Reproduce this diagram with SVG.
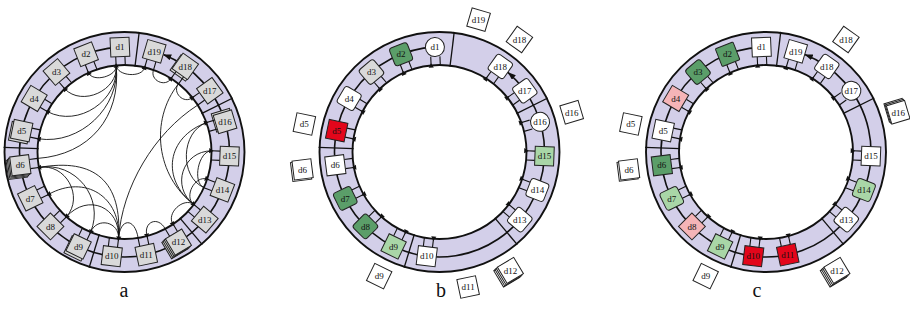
<svg xmlns="http://www.w3.org/2000/svg" width="910" height="322" viewBox="0 0 910 322">
<style>
.ring{fill:none;stroke:#d3cfe9;stroke-width:33}
.cir{fill:none;stroke:#111;stroke-width:1.9}
.sep{stroke:#111;stroke-width:1.3;fill:none}
.mid{fill:none;stroke:#111;stroke-width:1.6}
.ch{fill:none;stroke:#111;stroke-width:0.9}
.n{stroke:#222;stroke-width:1}
.g{fill:#d9d9d9}.w{fill:#fff}.dg{fill:#5b9e69}.lg{fill:#a9d6a7}.r{fill:#e3061b}.p{fill:#f5b4b7}
text{font-family:"Liberation Serif","Times New Roman",serif;font-size:9px;fill:#111;text-anchor:middle}
.lab{font-size:20px}
</style>
<defs>
<g id="legs"><path d="M-4.6,-95.5V-87M4.6,-95.5V-87" stroke="#111" stroke-width="1.1"/><path d="M-4.6,-89L-7.2,-84.6H-2Z" fill="#111"/></g>
<path id="sep" class="sep" d="M0,-86V-121"/>
<marker id="ah" viewBox="0 0 8 6" refX="8" refY="3" markerWidth="8" markerHeight="6" markerUnits="userSpaceOnUse" orient="auto"><path d="M0,0L8,3L0,6Z" fill="#111"/></marker>
</defs>

<g id="rings">
<g transform="translate(124.5 152)"><circle r="103.5" class="ring"/><circle r="120" class="cir"/><circle r="87" class="cir"/></g>
<g transform="translate(439.5 152)"><circle r="103.5" class="ring"/><circle r="120" class="cir"/><circle r="87" class="cir"/></g>
<g transform="translate(766 152)"><circle r="103.5" class="ring"/><circle r="120" class="cir"/><circle r="87" class="cir"/></g>
</g>

<g id="connectors">
<g transform="translate(124.5 152)"><use href="#sep" transform="rotate(7)"/><use href="#sep" transform="rotate(63.5)"/><use href="#sep" transform="rotate(140)"/><use href="#sep" transform="rotate(197)"/><use href="#sep" transform="rotate(272.2)"/></g>
<g transform="translate(439.5 152)"><use href="#sep" transform="rotate(7)"/><use href="#sep" transform="rotate(63.5)"/><use href="#sep" transform="rotate(140)"/><use href="#sep" transform="rotate(197)"/><use href="#sep" transform="rotate(272.2)"/></g>
<g transform="translate(766 152)"><use href="#sep" transform="rotate(7)"/><use href="#sep" transform="rotate(63.5)"/><use href="#sep" transform="rotate(140)"/><use href="#sep" transform="rotate(197)"/><use href="#sep" transform="rotate(272.2)"/></g>
<path class="mid" marker-end="url(#ah)" d="M119.92,47.1A105,105 0 1 0 163.32,54.44"/>
<path class="mid" marker-end="url(#ah)" d="M434.92,47.1A105,105 0 1 0 507.83,72.27"/>
<path class="mid" marker-end="url(#ah)" d="M761.42,47.1A105,105 0 1 0 804.82,54.44"/>
<path class="ch" d="M116.2,65.4C117.2,76.3 93,82.8 88.5,72.8"/>
<path class="ch" d="M116.2,65.4C118.6,90.3 81.9,107 64.7,88.8"/>
<path class="ch" d="M116.2,65.4C119.5,100.2 78.4,127.9 47.4,111.6"/>
<path class="ch" d="M116.2,65.4C120.2,107.2 80,145.2 38.5,138.8"/>
<path class="ch" d="M116.2,65.4C121.1,117.2 89.6,154.6 37.7,158.4"/>
<path class="ch" d="M116.2,65.4C117.2,76.3 142.2,78.1 144.7,67.4"/>
<path class="ch" d="M153.5,70C149.8,80.3 165.2,87.8 171.1,78.5"/>
<path class="ch" d="M178.5,83.8C171.7,92.4 183.8,104.5 192.4,97.6"/>
<path class="ch" d="M178.5,83.8C149.3,120.6 156.4,176.1 193.9,204.5"/>
<path class="ch" d="M197.7,105.1C154,133.1 122.1,186.9 118.5,238.8"/>
<path class="ch" d="M193.9,204.5C183.5,196.7 194.8,175.1 207.2,179.1"/>
<path class="ch" d="M193.9,204.5C170.7,187 182.5,151.2 211.5,150.8"/>
<path class="ch" d="M193.9,204.5C160.4,179.2 166.9,136.8 206.4,122.7"/>
<path class="ch" d="M203.9,187.6C179.2,176.6 181,131.8 206.4,122.7"/>
<path class="ch" d="M203.9,187.6C192,182.3 198.5,151 211.5,150.8"/>
<path class="ch" d="M173,224.2C165.8,213.4 183.5,196.7 193.9,204.5"/>
<path class="ch" d="M147,236.1C143.1,221.6 158.2,215.6 165.2,228.9"/>
<path class="ch" d="M118.5,238.8C119.9,217.8 134.8,217.2 138.1,237.9"/>
<path class="ch" d="M118.5,238.8C119.7,221.8 97.2,216.5 90.6,232.1"/>
<path class="ch" d="M118.5,238.8C120.7,206.9 87.8,192.9 66.4,216.8"/>
<path class="ch" d="M118.5,238.8C121.4,196.9 85.2,173.9 48.5,194.4"/>
<path class="ch" d="M118.5,238.8C122.4,181.9 95,157.3 38.9,167.5"/>
<path class="ch" d="M38.9,167.5C65.5,162.7 84.4,196.7 66.4,216.8"/>
<path class="ch" d="M38.9,167.5C75.3,160.9 105,198.1 90.6,232.1"/>
</g>

<g id="a-d1" transform="translate(124.5 152)"><g transform="rotate(-2.5)"><use href="#legs"/><rect class="n g" x="-9.5" y="-114.5" width="19" height="19"/><text transform="translate(0 -105) rotate(2.5)" y="3.2">d1</text></g></g>
<g id="a-d2" transform="translate(124.5 152)"><g transform="rotate(-21.45)"><use href="#legs"/><rect class="n g" x="-9.5" y="-114.5" width="19" height="19"/><text transform="translate(0 -105) rotate(21.45)" y="3.2">d2</text></g></g>
<g id="a-d3" transform="translate(124.5 152)"><g transform="rotate(-40.39)"><use href="#legs"/><rect class="n g" x="-9.5" y="-114.5" width="19" height="19"/><text transform="translate(0 -105) rotate(40.39)" y="3.2">d3</text></g></g>
<g id="a-d4" transform="translate(124.5 152)"><g transform="rotate(-59.34)"><use href="#legs"/><rect class="n g" x="-9.5" y="-114.5" width="19" height="19"/><text transform="translate(0 -105) rotate(59.34)" y="3.2">d4</text></g></g>
<g id="a-d5" transform="translate(124.5 152)"><rect class="n g" x="-9.5" y="-114.5" width="19" height="19" transform="translate(-2 2) rotate(-78.29)"/><g transform="rotate(-78.29)"><use href="#legs"/><rect class="n g" x="-9.5" y="-114.5" width="19" height="19"/><text transform="translate(0 -105) rotate(78.29)" y="3.2">d5</text></g></g>
<g id="a-d6" transform="translate(124.5 152)"><rect class="n g" x="-9.5" y="-114.5" width="19" height="19" transform="translate(-3.6 3.6) rotate(-97.24)"/><rect class="n g" x="-9.5" y="-114.5" width="19" height="19" transform="translate(-2.4 2.4) rotate(-97.24)"/><rect class="n g" x="-9.5" y="-114.5" width="19" height="19" transform="translate(-1.2 1.2) rotate(-97.24)"/><g transform="rotate(-97.24)"><use href="#legs"/><rect class="n g" x="-9.5" y="-114.5" width="19" height="19"/><text transform="translate(0 -105) rotate(97.24)" y="3.2">d6</text></g></g>
<g id="a-d7" transform="translate(124.5 152)"><g transform="rotate(-116.18)"><use href="#legs"/><rect class="n g" x="-9.5" y="-114.5" width="19" height="19"/><text transform="translate(0 -105) rotate(116.18)" y="3.2">d7</text></g></g>
<g id="a-d8" transform="translate(124.5 152)"><g transform="rotate(-135.13)"><use href="#legs"/><rect class="n g" x="-9.5" y="-114.5" width="19" height="19"/><text transform="translate(0 -105) rotate(135.13)" y="3.2">d8</text></g></g>
<g id="a-d9" transform="translate(124.5 152)"><rect class="n g" x="-9.5" y="-114.5" width="19" height="19" transform="translate(-2 2) rotate(-154.08)"/><g transform="rotate(-154.08)"><use href="#legs"/><rect class="n g" x="-9.5" y="-114.5" width="19" height="19"/><text transform="translate(0 -105) rotate(154.08)" y="3.2">d9</text></g></g>
<g id="a-d10" transform="translate(124.5 152)"><g transform="rotate(-173.03)"><use href="#legs"/><rect class="n g" x="-9.5" y="-114.5" width="19" height="19"/><text transform="translate(0 -105) rotate(173.03)" y="3.2">d10</text></g></g>
<g id="a-d11" transform="translate(124.5 152)"><g transform="rotate(168.03)"><use href="#legs"/><rect class="n g" x="-9.5" y="-114.5" width="19" height="19"/><text transform="translate(0 -105) rotate(-168.03)" y="3.2">d11</text></g></g>
<g id="a-d12" transform="translate(124.5 152)"><rect class="n g" x="-9.5" y="-114.5" width="19" height="19" transform="translate(-3.6 3.6) rotate(149.08)"/><rect class="n g" x="-9.5" y="-114.5" width="19" height="19" transform="translate(-2.4 2.4) rotate(149.08)"/><rect class="n g" x="-9.5" y="-114.5" width="19" height="19" transform="translate(-1.2 1.2) rotate(149.08)"/><g transform="rotate(149.08)"><use href="#legs"/><rect class="n g" x="-9.5" y="-114.5" width="19" height="19"/><text transform="translate(0 -105) rotate(-149.08)" y="3.2">d12</text></g></g>
<g id="a-d13" transform="translate(124.5 152)"><g transform="rotate(130.13)"><use href="#legs"/><rect class="n g" x="-9.5" y="-114.5" width="19" height="19"/><text transform="translate(0 -105) rotate(-130.13)" y="3.2">d13</text></g></g>
<g id="a-d14" transform="translate(124.5 152)"><g transform="rotate(111.18)"><use href="#legs"/><rect class="n g" x="-9.5" y="-114.5" width="19" height="19"/><text transform="translate(0 -105) rotate(-111.18)" y="3.2">d14</text></g></g>
<g id="a-d15" transform="translate(124.5 152)"><g transform="rotate(92.24)"><use href="#legs"/><rect class="n g" x="-9.5" y="-114.5" width="19" height="19"/><text transform="translate(0 -105) rotate(-92.24)" y="3.2">d15</text></g></g>
<g id="a-d16" transform="translate(124.5 152)"><rect class="n g" x="-9.5" y="-114.5" width="19" height="19" transform="translate(-2 -1.5) rotate(73.29)"/><g transform="rotate(73.29)"><use href="#legs"/><rect class="n g" x="-9.5" y="-114.5" width="19" height="19"/><text transform="translate(0 -105) rotate(-73.29)" y="3.2">d16</text></g></g>
<g id="a-d17" transform="translate(124.5 152)"><g transform="rotate(54.34)"><use href="#legs"/><rect class="n g" x="-9.5" y="-114.5" width="19" height="19"/><text transform="translate(0 -105) rotate(-54.34)" y="3.2">d17</text></g></g>
<g id="a-d18" transform="translate(124.5 152)"><rect class="n g" x="-9.5" y="-114.5" width="19" height="19" transform="translate(-2 1.5) rotate(35.39)"/><g transform="rotate(35.39)"><use href="#legs"/><rect class="n g" x="-9.5" y="-114.5" width="19" height="19"/><text transform="translate(0 -105) rotate(-35.39)" y="3.2">d18</text></g></g>
<g id="a-d19" transform="translate(124.5 152)"><g transform="rotate(16.45)"><use href="#legs"/><rect class="n g" x="-9.5" y="-114.5" width="19" height="19"/><text transform="translate(0 -105) rotate(-16.45)" y="3.2">d19</text></g></g>

<g id="b-d1" transform="translate(439.5 152)"><g transform="rotate(-2.5)"><use href="#legs"/><circle class="n w" cy="-105" r="9.5"/><text transform="translate(0 -105) rotate(2.5)" y="3.2">d1</text></g></g>
<g id="b-d2" transform="translate(439.5 152)"><g transform="rotate(-21.45)"><use href="#legs"/><rect class="n dg" x="-9.5" y="-114.5" width="19" height="19" rx="3"/><text transform="translate(0 -105) rotate(21.45)" y="3.2">d2</text></g></g>
<g id="b-d3" transform="translate(439.5 152)"><g transform="rotate(-40.39)"><use href="#legs"/><rect class="n g" x="-9.5" y="-114.5" width="19" height="19" rx="3"/><text transform="translate(0 -105) rotate(40.39)" y="3.2">d3</text></g></g>
<g id="b-d4" transform="translate(439.5 152)"><g transform="rotate(-59.34)"><use href="#legs"/><rect class="n w" x="-9.5" y="-114.5" width="19" height="19" rx="3"/><text transform="translate(0 -105) rotate(59.34)" y="3.2">d4</text></g></g>
<g id="b-d5" transform="translate(439.5 152)"><g transform="rotate(-78.29)"><use href="#legs"/><rect class="n r" x="-9.5" y="-114.5" width="19" height="19"/><text transform="translate(0 -105) rotate(78.29)" y="3.2">d5</text></g></g>
<g id="b-d6" transform="translate(439.5 152)"><g transform="rotate(-97.24)"><use href="#legs"/><rect class="n w" x="-9.5" y="-114.5" width="19" height="19"/><text transform="translate(0 -105) rotate(97.24)" y="3.2">d6</text></g></g>
<g id="b-d7" transform="translate(439.5 152)"><g transform="rotate(-116.18)"><use href="#legs"/><rect class="n dg" x="-9.5" y="-114.5" width="19" height="19" rx="3"/><text transform="translate(0 -105) rotate(116.18)" y="3.2">d7</text></g></g>
<g id="b-d8" transform="translate(439.5 152)"><g transform="rotate(-135.13)"><use href="#legs"/><rect class="n dg" x="-9.5" y="-114.5" width="19" height="19" rx="3"/><text transform="translate(0 -105) rotate(135.13)" y="3.2">d8</text></g></g>
<g id="b-d9" transform="translate(439.5 152)"><g transform="rotate(-154.08)"><use href="#legs"/><rect class="n lg" x="-9.5" y="-114.5" width="19" height="19"/><text transform="translate(0 -105) rotate(154.08)" y="3.2">d9</text></g></g>
<g id="b-d10" transform="translate(439.5 152)"><g transform="rotate(-173.03)"><use href="#legs"/><rect class="n w" x="-9.5" y="-114.5" width="19" height="19"/><text transform="translate(0 -105) rotate(173.03)" y="3.2">d10</text></g></g>
<g id="b-d13" transform="translate(439.5 152)"><g transform="rotate(130.13)"><use href="#legs"/><rect class="n w" x="-9.5" y="-114.5" width="19" height="19" rx="3"/><text transform="translate(0 -105) rotate(-130.13)" y="3.2">d13</text></g></g>
<g id="b-d14" transform="translate(439.5 152)"><g transform="rotate(111.18)"><use href="#legs"/><rect class="n w" x="-9.5" y="-114.5" width="19" height="19" rx="3"/><text transform="translate(0 -105) rotate(-111.18)" y="3.2">d14</text></g></g>
<g id="b-d15" transform="translate(439.5 152)"><g transform="rotate(92.24)"><use href="#legs"/><rect class="n lg" x="-9.5" y="-114.5" width="19" height="19"/><text transform="translate(0 -105) rotate(-92.24)" y="3.2">d15</text></g></g>
<g id="b-d16" transform="translate(439.5 152)"><g transform="rotate(73.29)"><use href="#legs"/><circle class="n w" cy="-105" r="9.5"/><text transform="translate(0 -105) rotate(-73.29)" y="3.2">d16</text></g></g>
<g id="b-d17" transform="translate(439.5 152)"><g transform="rotate(54.34)"><use href="#legs"/><rect class="n w" x="-9.5" y="-114.5" width="19" height="19" rx="3"/><text transform="translate(0 -105) rotate(-54.34)" y="3.2">d17</text></g></g>
<g id="b-d18" transform="translate(439.5 152)"><g transform="rotate(35.39)"><use href="#legs"/><rect class="n w" x="-9.5" y="-114.5" width="19" height="19" rx="3"/><text transform="translate(0 -105) rotate(-35.39)" y="3.2">d18</text></g></g>
<g id="b-d19-out" transform="translate(439.5 152)"><g transform="rotate(16.45)"><rect class="n w" x="-9.5" y="-147.5" width="19" height="19"/><text transform="translate(0 -138) rotate(-16.45)" y="3.2">d19</text></g></g>
<g id="b-d18-out" transform="translate(439.5 152)"><g transform="rotate(35.39)"><rect class="n w" x="-9.5" y="-147.5" width="19" height="19"/><text transform="translate(0 -138) rotate(-35.39)" y="3.2">d18</text></g></g>
<g id="b-d16-out" transform="translate(439.5 152)"><g transform="rotate(73.29)"><rect class="n w" x="-9.5" y="-147.5" width="19" height="19"/><text transform="translate(0 -138) rotate(-73.29)" y="3.2">d16</text></g></g>
<g id="b-d5-out" transform="translate(439.5 152)"><g transform="rotate(-78.29)"><rect class="n w" x="-9.5" y="-147.5" width="19" height="19"/><text transform="translate(0 -138) rotate(78.29)" y="3.2">d5</text></g></g>
<g id="b-d6-out" transform="translate(439.5 152)"><rect class="n w" x="-9.5" y="-147.5" width="19" height="19" transform="translate(-1.5 1.5) rotate(-97.24)"/><g transform="rotate(-97.24)"><rect class="n w" x="-9.5" y="-147.5" width="19" height="19"/><text transform="translate(0 -138) rotate(97.24)" y="3.2">d6</text></g></g>
<g id="b-d9-out" transform="translate(439.5 152)"><g transform="rotate(-154.08)"><rect class="n w" x="-9.5" y="-147.5" width="19" height="19"/><text transform="translate(0 -138) rotate(154.08)" y="3.2">d9</text></g></g>
<g id="b-d11-out" transform="translate(439.5 152)"><g transform="rotate(168.03)"><rect class="n w" x="-9.5" y="-147.5" width="19" height="19"/><text transform="translate(0 -138) rotate(-168.03)" y="3.2">d11</text></g></g>
<g id="b-d12-out" transform="translate(439.5 152)"><rect class="n w" x="-9.5" y="-147.5" width="19" height="19" transform="translate(-3.6 3.6) rotate(149.08)"/><rect class="n w" x="-9.5" y="-147.5" width="19" height="19" transform="translate(-2.4 2.4) rotate(149.08)"/><rect class="n w" x="-9.5" y="-147.5" width="19" height="19" transform="translate(-1.2 1.2) rotate(149.08)"/><g transform="rotate(149.08)"><rect class="n w" x="-9.5" y="-147.5" width="19" height="19"/><text transform="translate(0 -138) rotate(-149.08)" y="3.2">d12</text></g></g>

<g id="c-d1" transform="translate(766 152)"><g transform="rotate(-2.5)"><use href="#legs"/><rect class="n w" x="-9.5" y="-114.5" width="19" height="19"/><text transform="translate(0 -105) rotate(2.5)" y="3.2">d1</text></g></g>
<g id="c-d2" transform="translate(766 152)"><g transform="rotate(-21.45)"><use href="#legs"/><rect class="n dg" x="-9.5" y="-114.5" width="19" height="19" rx="1"/><text transform="translate(0 -105) rotate(21.45)" y="3.2">d2</text></g></g>
<g id="c-d3" transform="translate(766 152)"><g transform="rotate(-40.39)"><use href="#legs"/><rect class="n dg" x="-9.5" y="-114.5" width="19" height="19" rx="3"/><text transform="translate(0 -105) rotate(40.39)" y="3.2">d3</text></g></g>
<g id="c-d4" transform="translate(766 152)"><g transform="rotate(-59.34)"><use href="#legs"/><rect class="n p" x="-9.5" y="-114.5" width="19" height="19"/><text transform="translate(0 -105) rotate(59.34)" y="3.2">d4</text></g></g>
<g id="c-d5" transform="translate(766 152)"><g transform="rotate(-78.29)"><use href="#legs"/><rect class="n w" x="-9.5" y="-114.5" width="19" height="19"/><text transform="translate(0 -105) rotate(78.29)" y="3.2">d5</text></g></g>
<g id="c-d6" transform="translate(766 152)"><g transform="rotate(-97.24)"><use href="#legs"/><rect class="n dg" x="-9.5" y="-114.5" width="19" height="19"/><text transform="translate(0 -105) rotate(97.24)" y="3.2">d6</text></g></g>
<g id="c-d7" transform="translate(766 152)"><g transform="rotate(-116.18)"><use href="#legs"/><rect class="n lg" x="-9.5" y="-114.5" width="19" height="19" rx="3"/><text transform="translate(0 -105) rotate(116.18)" y="3.2">d7</text></g></g>
<g id="c-d8" transform="translate(766 152)"><g transform="rotate(-135.13)"><use href="#legs"/><rect class="n p" x="-9.5" y="-114.5" width="19" height="19"/><text transform="translate(0 -105) rotate(135.13)" y="3.2">d8</text></g></g>
<g id="c-d9" transform="translate(766 152)"><g transform="rotate(-154.08)"><use href="#legs"/><rect class="n lg" x="-9.5" y="-114.5" width="19" height="19"/><text transform="translate(0 -105) rotate(154.08)" y="3.2">d9</text></g></g>
<g id="c-d10" transform="translate(766 152)"><g transform="rotate(-173.03)"><use href="#legs"/><rect class="n r" x="-9.5" y="-114.5" width="19" height="19"/><text transform="translate(0 -105) rotate(173.03)" y="3.2">d10</text></g></g>
<g id="c-d11" transform="translate(766 152)"><g transform="rotate(168.03)"><use href="#legs"/><rect class="n r" x="-9.5" y="-114.5" width="19" height="19"/><text transform="translate(0 -105) rotate(-168.03)" y="3.2">d11</text></g></g>
<g id="c-d13" transform="translate(766 152)"><g transform="rotate(130.13)"><use href="#legs"/><rect class="n w" x="-9.5" y="-114.5" width="19" height="19" rx="3"/><text transform="translate(0 -105) rotate(-130.13)" y="3.2">d13</text></g></g>
<g id="c-d14" transform="translate(766 152)"><g transform="rotate(111.18)"><use href="#legs"/><rect class="n lg" x="-9.5" y="-114.5" width="19" height="19" rx="3"/><text transform="translate(0 -105) rotate(-111.18)" y="3.2">d14</text></g></g>
<g id="c-d15" transform="translate(766 152)"><g transform="rotate(92.24)"><use href="#legs"/><rect class="n w" x="-9.5" y="-114.5" width="19" height="19"/><text transform="translate(0 -105) rotate(-92.24)" y="3.2">d15</text></g></g>
<g id="c-d17" transform="translate(766 152)"><g transform="rotate(54.34)"><use href="#legs"/><circle class="n w" cy="-105" r="9.5"/><text transform="translate(0 -105) rotate(-54.34)" y="3.2">d17</text></g></g>
<g id="c-d18" transform="translate(766 152)"><g transform="rotate(35.39)"><use href="#legs"/><rect class="n w" x="-9.5" y="-114.5" width="19" height="19" rx="3"/><text transform="translate(0 -105) rotate(-35.39)" y="3.2">d18</text></g></g>
<g id="c-d19" transform="translate(766 152)"><g transform="rotate(16.45)"><use href="#legs"/><rect class="n w" x="-9.5" y="-114.5" width="19" height="19"/><text transform="translate(0 -105) rotate(-16.45)" y="3.2">d19</text></g></g>
<g id="c-d18-out" transform="translate(766 152)"><g transform="rotate(35.39)"><rect class="n w" x="-9.5" y="-147.5" width="19" height="19"/><text transform="translate(0 -138) rotate(-35.39)" y="3.2">d18</text></g></g>
<g id="c-d16-out" transform="translate(766 152)"><rect class="n w" x="-9.5" y="-147.5" width="19" height="19" transform="translate(-2.4 -2) rotate(73.29)"/><rect class="n w" x="-9.5" y="-147.5" width="19" height="19" transform="translate(-1.2 -1) rotate(73.29)"/><g transform="rotate(73.29)"><rect class="n w" x="-9.5" y="-147.5" width="19" height="19"/><text transform="translate(0 -138) rotate(-73.29)" y="3.2">d16</text></g></g>
<g id="c-d5-out" transform="translate(766 152)"><g transform="rotate(-78.29)"><rect class="n w" x="-9.5" y="-147.5" width="19" height="19"/><text transform="translate(0 -138) rotate(78.29)" y="3.2">d5</text></g></g>
<g id="c-d6-out" transform="translate(766 152)"><rect class="n w" x="-9.5" y="-147.5" width="19" height="19" transform="translate(-1.5 1.2) rotate(-97.24)"/><g transform="rotate(-97.24)"><rect class="n w" x="-9.5" y="-147.5" width="19" height="19"/><text transform="translate(0 -138) rotate(97.24)" y="3.2">d6</text></g></g>
<g id="c-d9-out" transform="translate(766 152)"><g transform="rotate(-154.08)"><rect class="n w" x="-9.5" y="-147.5" width="19" height="19"/><text transform="translate(0 -138) rotate(154.08)" y="3.2">d9</text></g></g>
<g id="c-d12-out" transform="translate(766 152)"><rect class="n w" x="-9.5" y="-147.5" width="19" height="19" transform="translate(-3.6 3.6) rotate(149.08)"/><rect class="n w" x="-9.5" y="-147.5" width="19" height="19" transform="translate(-2.4 2.4) rotate(149.08)"/><rect class="n w" x="-9.5" y="-147.5" width="19" height="19" transform="translate(-1.2 1.2) rotate(149.08)"/><g transform="rotate(149.08)"><rect class="n w" x="-9.5" y="-147.5" width="19" height="19"/><text transform="translate(0 -138) rotate(-149.08)" y="3.2">d12</text></g></g>

<g id="labels">
<text class="lab" x="124" y="297">a</text>
<text class="lab" x="441" y="297">b</text>
<text class="lab" x="757" y="297">c</text>
</g>
</svg>
